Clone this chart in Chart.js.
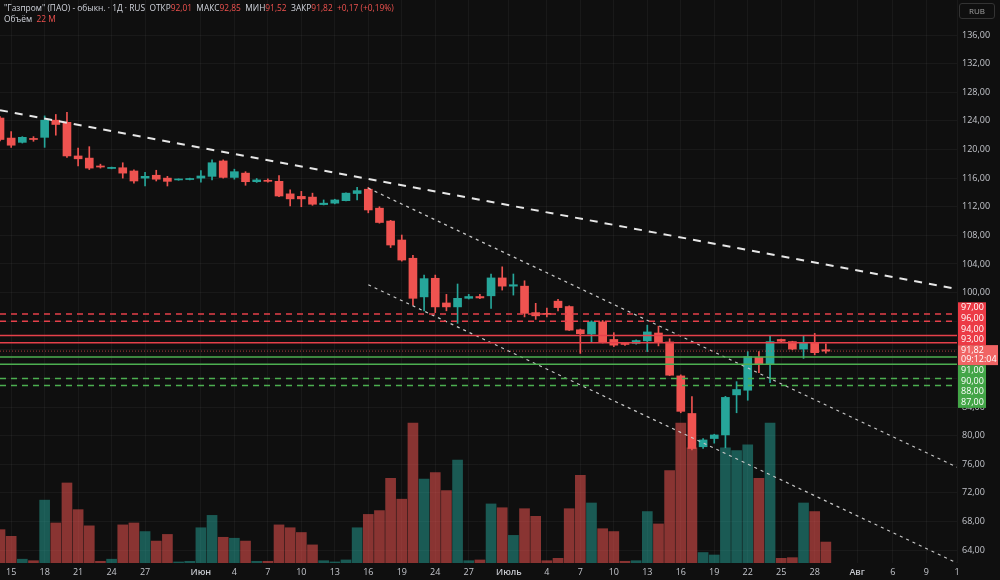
<!DOCTYPE html>
<html>
<head>
<meta charset="utf-8">
<script src="https://cdn.jsdelivr.net/npm/chart.js@4.4.1/dist/chart.umd.min.js"></script>
<style>
  body { margin: 0; background: #0f0f0f; }
  #wrap { position: relative; width: 1000px; height: 580px; }
  #hdr { position: absolute; left: 4px; top: 2px; font: 8.4px "Open Sans", sans-serif; color: #d1d4dc; line-height: 11px; pointer-events: none; white-space: pre; }
  #hdr .v { color: #f0524f; }
  #rub { position: absolute; left: 959px; top: 3px; width: 34px; height: 14px; border: 1px solid #333; border-radius: 3px;
         font: 8px "Open Sans", sans-serif; color: #a0a0a0; text-align: center; line-height: 14px; }
</style>
</head>
<body>
<div id="wrap">
  <canvas id="chart" width="1000" height="580"></canvas>
  <div id="hdr">"Газпром" (ПАО) - обыкн. · 1Д · RUS  ОТКР<span class="v">92,01</span>  МАКС<span class="v">92,85</span>  МИН<span class="v">91,52</span>  ЗАКР<span class="v">91,82</span>  <span class="v">+0,17 (+0,19%)</span>
Объём  <span class="v">22 M</span></div>
  <div id="rub">RUB</div>
</div>
<script>
// daily candles, one slot per calendar day (index 0 = first visible day)
const opens  = [124.4,121.6,121.0,121.55,121.7,124.1,123.8,119.1,118.8,117.7,117.35,117.45,117.0,116.0,116.4,116.0,115.75,115.8,116.0,116.25,
                118.4,116.1,116.7,115.5,115.7,115.55,113.8,113.45,113.35,112.3,112.5,112.85,113.85,114.45,111.8,110.0,107.35,104.8,99.4,102.0,
                98.55,98.0,99.2,99.45,99.55,102.05,100.9,100.9,97.2,97.1,98.8,98.05,94.8,94.2,95.9,93.45,92.9,92.9,93.25,94.35,
                93.1,88.35,83.1,78.45,79.6,80.1,85.7,86.35,90.95,90.05,93.45,93.15,92.1,93.0,92.01];
const highs  = [124.6,122.5,121.8,121.8,124.7,124.9,125.2,120.2,120.4,117.95,117.55,118.15,117.15,116.8,117.1,116.25,115.9,116.0,117.05,118.55,
                118.55,117.25,116.9,115.95,115.9,116.35,114.35,114.15,113.9,112.95,113.05,113.95,114.7,114.7,112.0,110.1,108.05,105.2,102.45,102.45,
                99.75,101.2,99.75,99.75,102.6,103.6,102.6,101.65,98.5,97.85,99.05,98.15,94.9,96.05,96.1,94.4,92.95,93.4,95.45,95.3,
                93.55,88.5,85.45,79.6,80.2,85.5,87.55,91.75,91.75,93.9,93.5,93.2,93.9,94.3,92.85];
const lows   = [121.2,120.3,120.9,121.15,120.3,122.0,118.9,117.7,117.2,117.4,117.3,116.0,115.3,114.9,115.6,114.9,115.7,115.75,115.45,115.75,
                116.0,115.85,115.0,115.4,115.45,113.4,112.1,112.0,112.2,112.25,112.4,112.8,112.95,111.15,109.7,106.3,104.4,98.25,97.45,97.2,
                97.45,95.7,99.1,99.15,97.8,100.35,99.65,96.6,96.25,96.6,97.45,94.7,91.5,93.0,92.95,92.45,92.6,92.8,91.75,92.55,
                88.4,83.2,78.0,78.2,78.95,78.3,83.2,84.95,88.8,87.4,93.0,92.0,90.8,91.3,91.52];
const closes = [121.4,120.6,121.7,121.4,124.1,123.5,119.1,118.7,117.4,117.55,117.5,116.7,115.6,116.25,115.85,115.55,115.85,115.95,116.3,118.15,
                116.1,116.9,115.5,115.75,115.55,113.5,113.1,113.1,112.35,112.5,112.95,113.9,114.25,111.55,109.8,106.65,104.55,99.2,101.95,98.0,
                98.0,99.2,99.45,99.25,102.05,100.9,101.1,97.1,96.75,96.95,97.9,94.75,94.25,95.9,93.05,92.65,92.75,93.3,94.5,93.05,
                88.45,83.4,78.2,79.4,80.1,85.35,86.45,91.05,90.05,93.15,93.2,92.1,93.0,91.6,91.82];
// volume, millions of shares
const volumes = [35,28,4,2.4,66,42,84,56,39,1.8,4,40,42,33,23,30,1.1,1.8,37,50,
                 27,26,23,1.8,1.8,40,37,32,19,2.4,1.1,3.2,37,51,55,89,67,147,88,95,
                 76,108,2.4,3.2,62,58,29,57,49,2.4,4.9,57,92,63,36,33,1.8,2.4,54,41,
                 97,147,121,11,8.4,121,118,124,89,147,4.9,5.6,63,54,22];

const xTickPos    = [1,4,7,10,13,18,21,24,27,30,33,36,39,42,45.6,49,52,55,58,61,64,67,70,73,76.8,80,83,85.75];
const xTickLabels = ['15','18','21','24','27','Июн','4','7','10','13','16','19','24','27','Июль','4','7','10','13','16','19','22','25','28','Авг','6','9','1'];
const priceTicks  = [64,68,72,76,80,84,88,92,96,100,104,108,112,116,120,124,128,132,136];

const resistLevels = [97,96,94,93];
const supportLevels = [91,90,88,87];
const dashedLevels = [97,96,88,87];
const lastPrice = 91.82;
const lastTime = '09:12:04';

// drawn trend lines, [start, end] as {x: day slot, y: price}
const trendTop   = [{x:0, y:125.5}, {x:85.75, y:100.5}];
const channelTop = [{x:33, y:114.6}, {x:85.75, y:75.6}];
const channelBot = [{x:33, y:101.1}, {x:85.75, y:62.2}];

const X_MAX = 85.75;
const UP = '#26a69a', DOWN = '#ef5350';
const isUp = i => closes[i] >= opens[i];
const fmt = v => v.toFixed(2).replace('.', ',');

const levelSets = [...resistLevels, ...supportLevels].map(v => ({
    type: 'line',
    data: [{x:0, y:v}, {x:X_MAX, y:v}],
    borderColor: resistLevels.includes(v) ? '#e5404a' : '#4caf50',
    borderWidth: 1.5,
    borderDash: dashedLevels.includes(v) ? [6,5] : [],
    pointRadius: 0,
    order: 0
}));

// coloured price tags on the right axis, stacked around the last price
const tagPlugin = {
    id: 'tags',
    afterDraw(chart) {
        const ctx = chart.ctx, ys = chart.scales.y;
        const left = chart.chartArea.right + 1;
        const h = 10.7;
        const py = ys.getPixelForValue(lastPrice);
        const top = py - 6, bottom = py + 14;
        ctx.save();
        ctx.font = '9px "Open Sans", sans-serif';
        ctx.textBaseline = 'middle';
        ctx.textAlign = 'left';

        const reds = resistLevels.slice().sort((a, b) => a - b);
        ctx.fillStyle = '#ec3a45';
        ctx.fillRect(left, top - h * reds.length, 28, h * reds.length);
        ctx.fillStyle = '#fff';
        reds.forEach((v, k) => ctx.fillText(fmt(v), left + 3, top - h * (k + 0.5)));

        const greens = supportLevels.slice().sort((a, b) => b - a);
        ctx.fillStyle = '#43a547';
        ctx.fillRect(left, bottom, 28, h * greens.length);
        ctx.fillStyle = '#fff';
        greens.forEach((v, k) => ctx.fillText(fmt(v), left + 3, bottom + h * (k + 0.5)));

        ctx.fillStyle = '#f06464';
        ctx.fillRect(left, top, 40, bottom - top);
        ctx.fillStyle = '#fff';
        ctx.fillText(fmt(lastPrice), left + 3, top + 5.5);
        ctx.fillText(lastTime, left + 3, top + 14.5);
        ctx.restore();
    }
};

const ctx = document.getElementById('chart').getContext('2d');
new Chart(ctx, {
    type: 'bar',
    data: {
        datasets: [
            ...levelSets,
            {
                type: 'line', data: [{x:0, y:lastPrice}, {x:X_MAX, y:lastPrice}],
                borderColor: 'rgba(239,83,80,0.7)', borderWidth: 1, borderDash: [1,2], pointRadius: 0, order: 0
            },
            {
                type: 'line', data: trendTop, borderColor: '#e6e6e6', borderWidth: 2,
                borderDash: [8,7], pointRadius: 0, order: 0
            },
            {
                type: 'line', data: channelTop, borderColor: '#c8c8c8', borderWidth: 1.2,
                borderDash: [3,4], pointRadius: 0, order: 0
            },
            {
                type: 'line', data: channelBot, borderColor: '#c8c8c8', borderWidth: 1.2,
                borderDash: [3,4], pointRadius: 0, order: 0
            },
            {
                // candle bodies
                data: opens.map((o, i) => ({x: i, y: [o, closes[i]]})),
                backgroundColor: opens.map((o, i) => isUp(i) ? UP : DOWN),
                barThickness: 8, minBarLength: 1, grouped: false, order: 1
            },
            {
                // wicks
                data: lows.map((l, i) => ({x: i, y: [l, highs[i]]})),
                backgroundColor: opens.map((o, i) => isUp(i) ? UP : DOWN),
                barThickness: 1, grouped: false, order: 2
            },
            {
                data: volumes.map((v, i) => ({x: i, y: v})),
                backgroundColor: opens.map((o, i) => isUp(i) ? 'rgba(38,166,154,0.5)' : 'rgba(239,83,80,0.55)'),
                barThickness: 10, grouped: false, yAxisID: 'v', order: 3
            }
        ]
    },
    options: {
        responsive: false,
        animation: false,
        layout: { padding: 0 },
        plugins: { legend: { display: false }, tooltip: { enabled: false } },
        scales: {
            x: {
                type: 'linear', min: 0, max: X_MAX, offset: false,
                afterBuildTicks: s => { s.ticks = xTickPos.map(v => ({value: v})); },
                afterFit: s => { s.height = 17; s.paddingLeft = 0; s.paddingRight = 0; },
                grid: { color: 'rgba(255,255,255,0.045)', drawTicks: false, offset: false },
                border: { display: false },
                ticks: {
                    autoSkip: false, maxRotation: 0, padding: 4, color: '#c4c6cc',
                    font: c => ({ family: '"Open Sans", sans-serif', size: 9,
                                  weight: /[А-я]/.test(xTickLabels[c.index]) ? '600' : '400' }),
                    callback: (v, i) => xTickLabels[i]
                }
            },
            y: {
                position: 'right', min: 62.2, max: 140.9,
                afterBuildTicks: s => { s.ticks = priceTicks.map(v => ({value: v})); },
                afterFit: s => { s.width = 43; s.paddingTop = 0; s.paddingBottom = 0; },
                grid: { color: 'rgba(255,255,255,0.045)', drawTicks: false },
                border: { display: false },
                ticks: {
                    padding: 5, color: '#c4c6cc',
                    font: { family: '"Open Sans", sans-serif', size: 9 },
                    callback: v => fmt(v)
                }
            },
            v: { display: false, min: 0, max: 591 }
        }
    },
    plugins: [tagPlugin]
});
</script>
</body>
</html>
